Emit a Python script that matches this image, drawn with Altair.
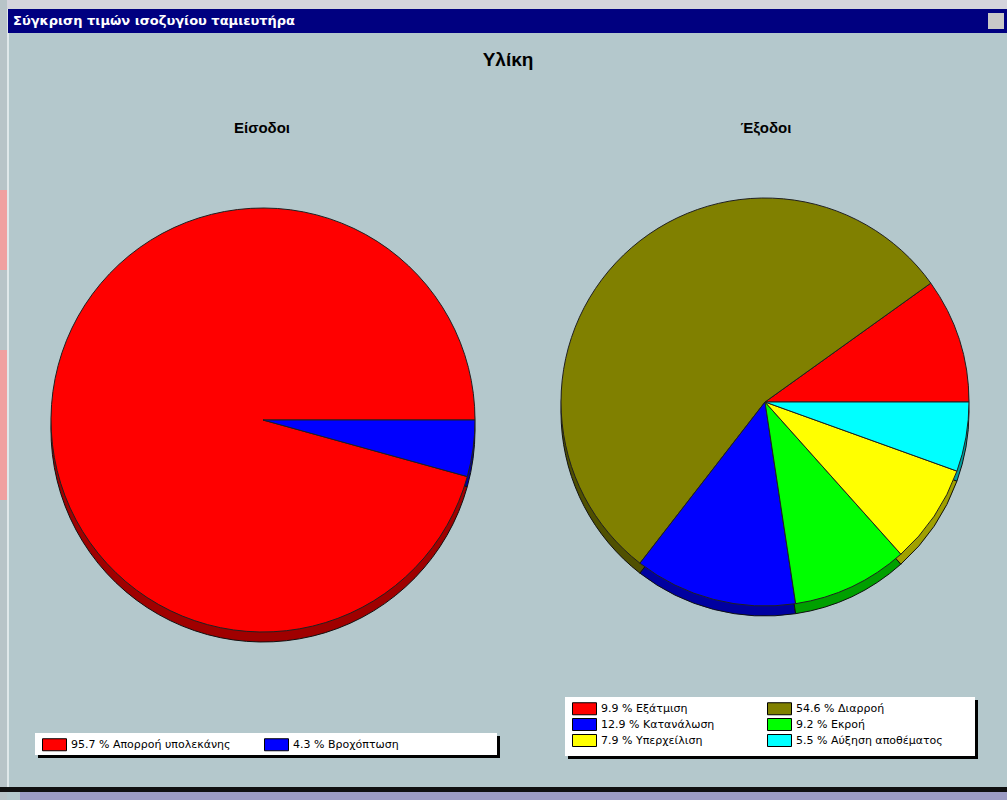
import math
import altair as alt
import pandas as pd

# ---------------- data ----------------
window_title = "Σύγκριση τιμών ισοζυγίου ταμιευτήρα"
main_title = "Υλίκη"
in_title = "Είσοδοι"
out_title = "Έξοδοι"

in_labels = ["Απορροή υπολεκάνης", "Βροχόπτωση"]
in_values = [95.7, 4.3]
in_colors = ["#FF0000", "#0000FF"]
in_side = ["#A00000", "#0000A0"]

out_labels = ["Εξάτμιση", "Διαρροή", "Κατανάλωση", "Εκροή", "Υπερχείλιση", "Αύξηση αποθέματος"]
out_values = [9.9, 54.6, 12.9, 9.2, 7.9, 5.5]
out_colors = ["#FF0000", "#808000", "#0000FF", "#00FF00", "#FFFF00", "#00FFFF"]
out_side = ["#A00000", "#505000", "#0000A0", "#00A000", "#A0A000", "#00A0A0"]


def frame(labels, values):
    return pd.DataFrame({
        "label": [f"{v} % {l}" for l, v in zip(labels, values)],
        "value": values,
        "idx": list(range(len(values))),
    })


in_df = frame(in_labels, in_values)
out_df = frame(out_labels, out_values)

BG = "#B4C8CC"
one = pd.DataFrame({"k": [0]})


def box(x, x2, y, y2, color):
    return alt.Chart(one).mark_rect(color=color).encode(
        x=alt.value(x), x2=alt.value(x2), y=alt.value(y), y2=alt.value(y2)
    )


def text(t, x, y, size, bold=True, color="black", align="center", font="Liberation Sans"):
    return alt.Chart(one).mark_text(
        text=t, fontSize=size, fontWeight="bold" if bold else "normal",
        color=color, align=align, baseline="middle", font=font
    ).encode(x=alt.value(x), y=alt.value(y))


def legend_order(n, cols):
    # Vega fills legend grids column by column; reorder so entries read row by row
    rows = math.ceil(n / cols)
    order = []
    for c in range(cols):
        for r in range(rows):
            i = r * cols + c
            if i < n:
                order.append(i)
    return order


def pie(df, colors, cx, cy, r, legend=None, side=False):
    labels = list(df["label"])
    order = legend_order(len(labels), 2)
    return alt.Chart(df).mark_arc(
        radius=r, stroke="#202020" if not side else "#101010", strokeWidth=1
    ).encode(
        theta=alt.Theta("value:Q", stack=True,
                        scale=alt.Scale(range=[math.pi / 2, math.pi / 2 + 2 * math.pi])),
        order=alt.Order("idx:Q", sort="descending"),
        color=alt.Color("label:N",
                        scale=alt.Scale(domain=[labels[i] for i in order],
                                        range=[colors[i] for i in order]),
                        legend=legend),
        x=alt.value(cx), y=alt.value(cy),
    )


def legend(x, y, colpad):
    return alt.Legend(
        title=None, orient="none", legendX=x, legendY=y, columns=2,
        symbolType="M-2,-1H2V1H-2Z", symbolSize=144,
        symbolStrokeColor="black", symbolStrokeWidth=1, symbolOpacity=1,
        labelFont="DejaVu Sans", labelFontSize=11, labelColor="black",
        labelOffset=10, rowPadding=-1, columnPadding=colpad, padding=0,
        labelLimit=300,
    )


layers = [
    # window frame decorations
    box(0, 1007, 0, 9, "#D4D4DC"),
    box(0, 7, 0, 800, "#B8C4C8"),
    box(0, 7, 190, 270, "#F0A0A0"),
    box(0, 7, 350, 500, "#F0A0A0"),
    box(7, 9, 9, 790, "#E0E8EA"),
    box(8, 1007, 9, 33, "#000080"),
    box(988, 1004, 13, 29, "#C8C8C8"),
    text(window_title, 13, 21, 13, color="white", align="left", font="DejaVu Sans"),
    box(0, 1007, 787, 792, "#101010"),
    box(20, 1007, 792, 800, "#9C9CC4"),
    # titles
    text(main_title, 508, 60, 19),
    text(in_title, 262, 128, 15),
    text(out_title, 766, 128, 15),
    # legend boxes
    box(38, 500, 736, 758, "#000000"),
    box(35, 497, 733, 755, "#FFFFFF"),
    box(568, 978, 700, 759, "#000000"),
    box(565, 975, 697, 756, "#FFFFFF"),
    # pies
    pie(in_df, in_side, 263, 430, 212, side=True),
    pie(in_df, in_colors, 263, 420, 212, legend=legend(48, 738, 31)),
    pie(out_df, out_side, 765, 412, 204, side=True),
    pie(out_df, out_colors, 765, 402, 204, legend=legend(578, 702, 50)),
]

chart = alt.layer(*layers).resolve_scale(
    color="independent", theta="independent"
).properties(
    width=1007, height=800, autosize=alt.AutoSizeParams(type="none"), padding=0,
    background=BG,
).configure_view(stroke=None)

chart.save("out.html", embed_options={"renderer": "svg", "actions": False})
